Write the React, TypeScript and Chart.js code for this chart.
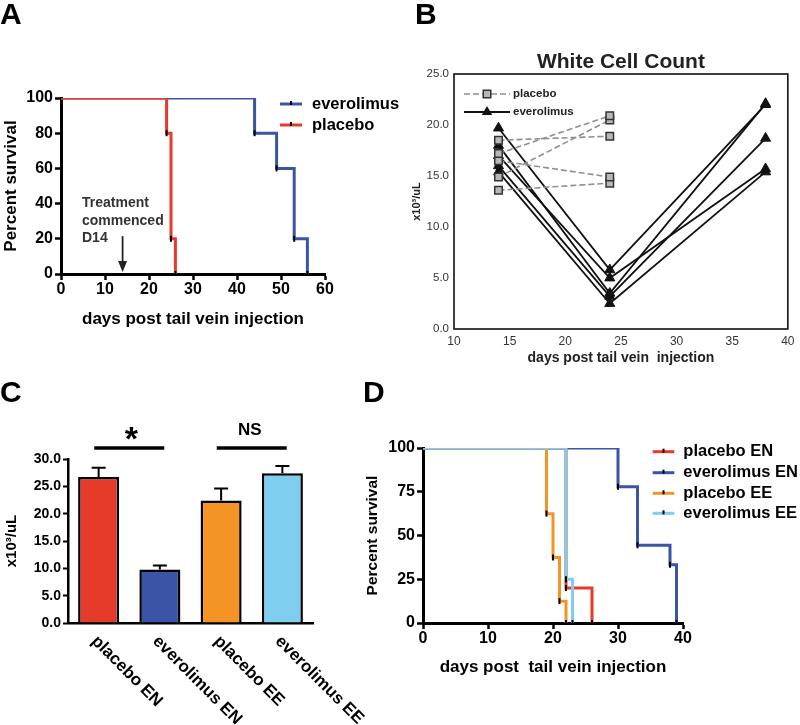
import React, { useEffect, useRef } from 'react';
import { Chart, registerables } from 'chart.js';

Chart.register(...registerables);

const FONT = '"Liberation Sans", Arial, Helvetica, sans-serif';
Chart.defaults.font.family = FONT;

// ---------------- Panel A: survival ----------------
const aEverolimusDays = [0, 44, 49, 53, 56];
const aEverolimusSurvival = [100, 80, 60, 20, 0];
const aPlaceboDays = [0, 24, 25, 26];
const aPlaceboSurvival = [100, 80, 20, 0];
const aNoteLines = ['Treatment', 'commenced', 'D14'];
const aTreatmentDay = 14;

// ---------------- Panel B: white cell count ----------------
const bDays = [14, 24, 38];
const bPlaceboMice = [
  [18.5, 18.9],
  [17.2, 20.9],
  [16.5, 14.9],
  [14.9, 20.5],
  [13.6, 14.3],
];
const bEverolimusMice = [
  [19.7, 5.8, 22.0],
  [18.0, 3.5, 22.1],
  [17.0, 5.0, 15.7],
  [16.0, 3.2, 18.7],
  [15.4, 2.5, 15.4],
];

// ---------------- Panel C: bars ----------------
const cGroups = ['placebo EN', 'everolimus EN', 'placebo EE', 'everolimus EE'];
const cMeans = [26.7, 9.8, 22.4, 27.4];
const cSem = [1.7, 0.7, 2.2, 1.3];
const cSigPairs = [[0, 1], [2, 3]];
const cSigLabels = ['*', 'NS'];

// ---------------- Panel D: survival ----------------
const dPlaceboENDays = [0, 22, 26];
const dPlaceboENSurvival = [100, 20, 0];
const dEverolimusENDays = [0, 30, 33, 38, 39];
const dEverolimusENSurvival = [100, 77.8, 44.4, 33.3, 0];
const dPlaceboEEDays = [0, 19, 20, 21, 22];
const dPlaceboEESurvival = [100, 62.5, 37.5, 12.5, 0];
const dEverolimusEEDays = [0, 22, 23];
const dEverolimusEESurvival = [100, 25, 0];

const RED = '#e63a2b';
const BLUE = '#3a55a6';
const ORANGE = '#f39425';
const LIGHT = '#7fcdef';

const pts = (xs: number[], ys: number[]) => xs.map((x, i) => ({ x, y: ys[i] }));

function txt(ctx: any, s: string, x: number, y: number, font: string, color = '#000', align = 'left', baseline = 'middle') {
  ctx.save();
  ctx.font = font;
  ctx.fillStyle = color;
  ctx.textAlign = align;
  ctx.textBaseline = baseline;
  ctx.fillText(s, x, y);
  ctx.restore();
}

const letterPlugin = (letter: string, x: number, y: number) => ({
  id: 'panelLetter',
  afterDraw(chart: any) {
    txt(chart.ctx, letter, x, y, `bold 30px ${FONT}`, '#000', 'left', 'alphabetic');
  },
});

const survivalSet = (label: string, xs: number[], ys: number[], color: string, order: number) => ({
  label,
  data: pts(xs, ys),
  borderColor: color,
  backgroundColor: color,
  borderWidth: 3,
  stepped: 'before',
  fill: false,
  order,
  pointStyle: 'line',
  pointRotation: 90,
  pointRadius: (c: any) => (c.dataIndex === 0 ? 0 : 3),
  pointBorderColor: '#000',
  pointBackgroundColor: '#000',
  pointBorderWidth: 2,
});

const survivalLegend = (x0: number, x1: number, tx: number, ys: number[], size: number) => ({
  id: 'survLegend',
  afterDraw(chart: any) {
    const ctx = chart.ctx;
    chart.data.datasets.forEach((ds: any, i: number) => {
      const y = ys[i];
      ctx.save();
      ctx.strokeStyle = ds.borderColor;
      ctx.lineWidth = 3;
      ctx.beginPath();
      ctx.moveTo(x0, y);
      ctx.lineTo(x1, y);
      ctx.stroke();
      ctx.strokeStyle = '#000';
      ctx.lineWidth = 2;
      const xm = (x0 + x1) / 2;
      ctx.beginPath();
      ctx.moveTo(xm, y - 3);
      ctx.lineTo(xm, y + 1);
      ctx.stroke();
      ctx.restore();
      txt(ctx, ds.label, tx, y, `bold ${size}px ${FONT}`);
    });
  },
});

const blackGrid = { drawOnChartArea: false, drawTicks: true, tickLength: 6, tickColor: '#000', tickWidth: 2.5 };
const blackBorder = { display: true, color: '#000', width: 3 };
const baseOpts = {
  responsive: false,
  animation: false,
  events: [],
  plugins: { legend: { display: false }, tooltip: { enabled: false }, title: { display: false } },
};

function configA(): any {
  return {
    type: 'line',
    data: {
      datasets: [
        survivalSet('everolimus', aEverolimusDays, aEverolimusSurvival, BLUE, 1),
        survivalSet('placebo', aPlaceboDays, aPlaceboSurvival, RED, 0),
      ],
    },
    options: {
      ...baseOpts,
      layout: { padding: { left: 0, top: 98, right: 75, bottom: 6 } },
      scales: {
        x: {
          type: 'linear', min: 0, max: 60,
          ticks: { stepSize: 10, font: { size: 16, weight: 'bold' }, color: '#000', padding: 0, maxRotation: 0 },
          grid: blackGrid, border: blackBorder,
          title: { display: true, text: 'days post tail vein injection', font: { size: 17, weight: 'bold' }, color: '#000', padding: { top: 0, bottom: 4 } },
          afterFit: (s: any) => { s.height = 60; },
        },
        y: {
          type: 'linear', min: 0, max: 100,
          ticks: { stepSize: 20, font: { size: 16, weight: 'bold' }, color: '#000', padding: 2 },
          grid: blackGrid, border: blackBorder,
          title: { display: true, text: 'Percent survival', font: { size: 17, weight: 'bold' }, color: '#000', padding: { top: 1, bottom: 0 } },
          afterFit: (s: any) => { s.width = 61; },
        },
      },
    },
    plugins: [
      letterPlugin('A', 0, 24),
      survivalLegend(280, 302, 312, [104, 125], 16.5),
      {
        id: 'treatNote',
        afterDraw(chart: any) {
          const { ctx, scales } = chart;
          const lineYs = [203, 221, 238];
          aNoteLines.forEach((s, i) => txt(ctx, s, 82, lineYs[i], `bold 14px ${FONT}`, '#333'));
          const ax = scales.x.getPixelForValue(aTreatmentDay);
          const y0 = scales.y.getPixelForValue(21.5);
          const y1 = scales.y.getPixelForValue(1.2);
          ctx.save();
          ctx.strokeStyle = '#222';
          ctx.fillStyle = '#222';
          ctx.lineWidth = 1.8;
          ctx.beginPath();
          ctx.moveTo(ax, y0);
          ctx.lineTo(ax, y1 - 8);
          ctx.stroke();
          ctx.beginPath();
          ctx.moveTo(ax, y1);
          ctx.lineTo(ax - 4.5, y1 - 11);
          ctx.lineTo(ax + 4.5, y1 - 11);
          ctx.closePath();
          ctx.fill();
          ctx.restore();
        },
      },
    ],
  };
}

const PLACEBO_B = { line: '#8f8f8f', fill: '#b8b8b8', edge: '#333' };

function drawSquare(ctx: any, x: number, y: number, side: number) {
  ctx.save();
  ctx.fillStyle = PLACEBO_B.fill;
  ctx.strokeStyle = PLACEBO_B.edge;
  ctx.lineWidth = 1.5;
  ctx.fillRect(x - side / 2, y - side / 2, side, side);
  ctx.strokeRect(x - side / 2, y - side / 2, side, side);
  ctx.restore();
}
function drawTriangle(ctx: any, x: number, y: number, r: number) {
  ctx.save();
  ctx.fillStyle = '#111';
  ctx.beginPath();
  ctx.moveTo(x, y - r);
  ctx.lineTo(x + r * 0.866, y + r * 0.5);
  ctx.lineTo(x - r * 0.866, y + r * 0.5);
  ctx.closePath();
  ctx.fill();
  ctx.restore();
}

function configB(): any {
  return {
    type: 'line',
    data: {
      datasets: [
        ...bPlaceboMice.map((vals) => ({
          label: 'placebo',
          data: vals.map((v, j) => ({ x: bDays[j], y: v })),
          borderColor: PLACEBO_B.line,
          borderWidth: 1.6,
          borderDash: [6, 3],
          fill: false,
          pointStyle: 'rect',
          pointRadius: 5.3,
          pointBackgroundColor: PLACEBO_B.fill,
          pointBorderColor: PLACEBO_B.edge,
          pointBorderWidth: 1.5,
        })),
        ...bEverolimusMice.map((vals) => ({
          label: 'everolimus',
          data: vals.map((v, j) => ({ x: bDays[j], y: v })),
          borderColor: '#111',
          borderWidth: 1.8,
          fill: false,
          pointStyle: 'triangle',
          pointRadius: 5.8,
          pointBackgroundColor: '#111',
          pointBorderColor: '#111',
          pointBorderWidth: 1,
        })),
      ],
    },
    options: {
      ...baseOpts,
      layout: { padding: { left: 6, top: 74, right: 9, bottom: 6 } },
      scales: {
        x: {
          type: 'linear', min: 10, max: 40,
          ticks: { stepSize: 5, font: { size: 12 }, color: '#333', padding: 5.5, maxRotation: 0 },
          grid: { display: false, drawTicks: false, tickLength: 0 }, border: { display: false },
          title: { display: true, text: 'days post tail vein  injection', font: { size: 14, weight: 'bold' }, color: '#222', padding: { top: 0, bottom: 2 } },
          afterFit: (s: any) => { s.height = 40; },
        },
        y: {
          type: 'linear', min: 0, max: 25,
          ticks: { stepSize: 5, font: { size: 11.5 }, color: '#333', padding: 5, callback: (v: any) => Number(v).toFixed(1) },
          grid: { display: false, drawTicks: false, tickLength: 0 }, border: { display: false },
          title: { display: true, text: 'x10³/uL', font: { size: 11, weight: 'bold' }, color: '#222', padding: { top: 4, bottom: 0 } },
          afterFit: (s: any) => { s.width = 48; },
        },
      },
    },
    plugins: [
      letterPlugin('B', 15, 24),
      {
        id: 'frameB',
        afterDraw(chart: any) {
          const { ctx, chartArea: a } = chart;
          ctx.save();
          ctx.strokeStyle = '#111';
          ctx.lineWidth = 1.6;
          ctx.strokeRect(a.left, a.top, a.right - a.left, a.bottom - a.top);
          ctx.restore();
          txt(ctx, 'White Cell Count', (a.left + a.right) / 2, 62, `bold 21px ${FONT}`, '#222', 'center');
          // legend
          const x0 = 64, x1 = 110, xm = 87, tx = 113;
          ctx.save();
          ctx.strokeStyle = PLACEBO_B.line;
          ctx.lineWidth = 1.6;
          ctx.setLineDash([6, 3]);
          ctx.beginPath();
          ctx.moveTo(x0, 94);
          ctx.lineTo(x1, 94);
          ctx.stroke();
          ctx.setLineDash([]);
          ctx.strokeStyle = '#111';
          ctx.lineWidth = 1.8;
          ctx.beginPath();
          ctx.moveTo(x0, 112);
          ctx.lineTo(x1, 112);
          ctx.stroke();
          ctx.restore();
          drawSquare(ctx, xm, 94, 7.5);
          drawTriangle(ctx, xm, 112, 6);
          txt(ctx, 'placebo', tx, 94, `bold 11.5px ${FONT}`, '#222');
          txt(ctx, 'everolimus', tx, 112, `bold 11.5px ${FONT}`, '#222');
        },
      },
    ],
  };
}

function configC(): any {
  return {
    type: 'bar',
    data: {
      labels: cGroups,
      datasets: [
        {
          data: cMeans,
          backgroundColor: [RED, BLUE, ORANGE, LIGHT],
          borderColor: '#000',
          borderWidth: 2.5,
          barPercentage: 0.67,
          categoryPercentage: 1,
        },
      ],
    },
    options: {
      ...baseOpts,
      layout: { padding: { left: 0, top: 119, right: 87, bottom: 0 } },
      scales: {
        x: {
          ticks: { display: false },
          grid: { display: false },
          border: { display: true, color: '#000', width: 2.5 },
          afterFit: (s: any) => { s.height = 102; },
        },
        y: {
          type: 'linear', min: 0, max: 30,
          ticks: { stepSize: 5, font: { size: 14, weight: 'bold' }, color: '#000', padding: 2, callback: (v: any) => Number(v).toFixed(1) },
          grid: { drawOnChartArea: false, drawTicks: true, tickLength: 5, tickColor: '#000', tickWidth: 2 },
          border: { display: true, color: '#000', width: 2.5 },
          title: { display: true, text: 'x10³/uL', font: { size: 15, weight: 'bold' }, color: '#000', padding: { top: 3, bottom: 0 } },
          afterFit: (s: any) => { s.width = 68; },
        },
      },
    },
    plugins: [
      letterPlugin('C', 0, 62),
      {
        id: 'extrasC',
        afterDraw(chart: any) {
          const { ctx, scales, chartArea } = chart;
          const meta = chart.getDatasetMeta(0);
          ctx.save();
          ctx.strokeStyle = '#000';
          ctx.lineWidth = 2;
          meta.data.forEach((el: any, i: number) => {
            const yTop = scales.y.getPixelForValue(cMeans[i] + cSem[i]);
            ctx.beginPath();
            ctx.moveTo(el.x, el.y);
            ctx.lineTo(el.x, yTop);
            ctx.moveTo(el.x - 7, yTop);
            ctx.lineTo(el.x + 7, yTop);
            ctx.stroke();
          });
          // significance
          ctx.lineWidth = 3.5;
          cSigPairs.forEach(([a, b], k) => {
            const xc = (scales.x.getPixelForValue(a) + scales.x.getPixelForValue(b)) / 2;
            const yl = scales.y.getPixelForValue(32);
            ctx.beginPath();
            ctx.moveTo(xc - 35, yl);
            ctx.lineTo(xc + 35, yl);
            ctx.stroke();
            const yt = scales.y.getPixelForValue(35.2);
            if (cSigLabels[k] === '*') {
              txt(ctx, '*', xc + 2, yt + 0.575 * 34, `bold 34px ${FONT}`, '#000', 'center', 'alphabetic');
            } else {
              txt(ctx, cSigLabels[k], xc - 2, yt, `bold 17px ${FONT}`, '#000', 'center');
            }
          });
          ctx.restore();
          // rotated category labels
          cGroups.forEach((lab, i) => {
            const x = scales.x.getPixelForValue(i);
            ctx.save();
            ctx.translate(x - 4.5, chartArea.bottom + 15.6);
            ctx.rotate(Math.PI / 4);
            txt(ctx, lab, 0, 0, `bold 17px ${FONT}`, '#000', 'left', 'middle');
            ctx.restore();
          });
        },
      },
    ],
  };
}

function configD(): any {
  return {
    type: 'line',
    data: {
      datasets: [
        survivalSet('placebo EN', dPlaceboENDays, dPlaceboENSurvival, RED, 2),
        survivalSet('everolimus EN', dEverolimusENDays, dEverolimusENSurvival, BLUE, 3),
        survivalSet('placebo EE', dPlaceboEEDays, dPlaceboEESurvival, ORANGE, 1),
        survivalSet('everolimus EE', dEverolimusEEDays, dEverolimusEESurvival, LIGHT, 0),
      ],
    },
    options: {
      ...baseOpts,
      layout: { padding: { left: 19, top: 108, right: 117, bottom: 43 } },
      scales: {
        x: {
          type: 'linear', min: 0, max: 40,
          ticks: { stepSize: 10, font: { size: 16, weight: 'bold' }, color: '#000', padding: 0, maxRotation: 0 },
          grid: blackGrid, border: blackBorder,
          title: { display: true, text: 'days post  tail vein injection', font: { size: 17, weight: 'bold' }, color: '#000', padding: { top: 0, bottom: 4 } },
          afterFit: (s: any) => { s.height = 59; },
        },
        y: {
          type: 'linear', min: 0, max: 100,
          ticks: { stepSize: 25, font: { size: 16, weight: 'bold' }, color: '#000', padding: 2 },
          grid: blackGrid, border: blackBorder,
          title: { display: true, text: 'Percent survival', font: { size: 15.5, weight: 'bold' }, color: '#000', padding: { top: 4, bottom: 0 } },
          afterFit: (s: any) => { s.width = 64; },
        },
      },
    },
    plugins: [
      letterPlugin('D', 23, 62),
      survivalLegend(312.7, 334.3, 343.3, [111.7, 132.7, 153.3, 173.3], 16.5),
    ],
  };
}

function ChartPanel({ left, top, width, height, make }: any) {
  const ref = useRef<HTMLCanvasElement>(null);
  useEffect(() => {
    const chart = new Chart(ref.current as HTMLCanvasElement, make());
    return () => chart.destroy();
  }, []);
  return (
    <canvas
      ref={ref}
      width={width}
      height={height}
      style={{ position: 'absolute', left, top, width, height }}
    />
  );
}

export default function App() {
  return (
    <div style={{ position: 'absolute', left: 0, top: 0, width: 800, height: 725, background: '#fff', overflow: 'hidden' }}>
      <ChartPanel left={0} top={0} width={400} height={340} make={configA} />
      <ChartPanel left={400} top={0} width={400} height={375} make={configB} />
      <ChartPanel left={0} top={340} width={400} height={385} make={configC} />
      <ChartPanel left={340} top={340} width={460} height={385} make={configD} />
    </div>
  );
}
